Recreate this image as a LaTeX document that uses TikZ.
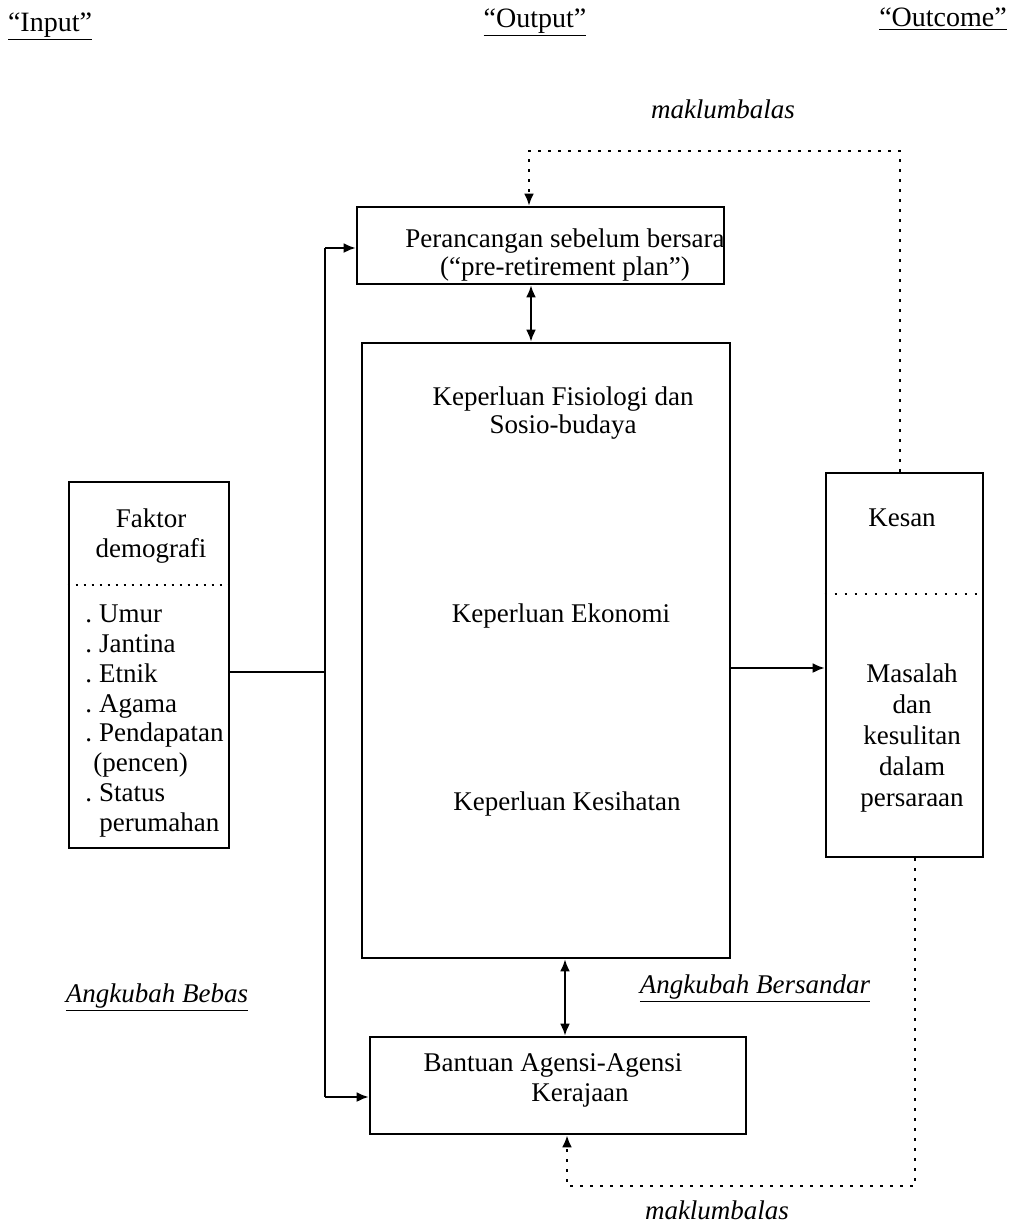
\documentclass[tikz,border=0pt]{standalone}
\usepackage{fontspec}
\setmainfont{Liberation Serif}
\usepackage{tikz}
\usetikzlibrary{arrows.meta,positioning}
\tikzset{
	kotak/.style={draw,line width=1.3pt,inner sep=0pt},
	teks/.style={inner sep=0pt},
	anak/.style={-{Latex[length=6pt,width=5pt]},line width=1.1pt},
	duaanak/.style={{Latex[length=6pt,width=5pt]}-{Latex[length=6pt,width=5pt]},line width=1.1pt},
	titik/.style={line width=1.3pt,dash pattern=on 1.3pt off 3.7pt}
}

\begin{document}
\begin{tikzpicture}[x=0.5pt,y=-0.5pt,font=\fontsize{13.5}{15}\selectfont]
  \useasboundingbox (0,0) rectangle (1009,1228);
  \tikzstyle{tajuk}=[teks,anchor=base,font=\fontsize{14}{16}\selectfont]

  % tajuk lajur
  \node[tajuk] (input) at (50,31) {\underline{``Input''}};
  \node[tajuk] (output) at (535,27) {\underline{``Output''}};
  \node[tajuk] (outcome) at (943,26) {\underline{``Outcome''}};

  % kotak
  \node[kotak,minimum width=183.5pt,minimum height=38.5pt] (perancangan) at (540.5,245.5) {};
  \node[kotak,minimum width=184pt,minimum height=307.5pt] (keperluan) at (546,650.5) {};
  \node[kotak,minimum width=80pt,minimum height=183pt] (faktor) at (149,665) {};
  \node[kotak,minimum width=78.5pt,minimum height=192pt] (kesan) at (904.5,665) {};
  \node[kotak,minimum width=188pt,minimum height=48.5pt] (bantuan) at (558,1085.5) {};

  % teks dalam kotak
  \node[teks,align=center,font=\fontsize{13.5}{14}\selectfont] (teksrancang) at (565,254.5)
    {Perancangan sebelum bersara\\(``pre-retirement plan'')};
  \node[teks,align=center,font=\fontsize{13.5}{14}\selectfont] (fisiologi) at (563,413) {Keperluan Fisiologi dan\\Sosio-budaya};
  \node[teks,anchor=base] (ekonomi) at (561,622) {Keperluan Ekonomi};
  \node[teks,anchor=base] (kesihatan) at (567,810) {Keperluan Kesihatan};
  \node[teks,align=center] (tajukfaktor) at (151,536) {Faktor\\demografi};
  \node[teks,align=left,anchor=west,font=\fontsize{13.5}{14.93}\selectfont] (senarai) at (85,721)
    {.\hspace{3.5pt}Umur\\.\hspace{3.5pt}Jantina\\.\hspace{3.5pt}Etnik\\.\hspace{3.5pt}Agama\\
     .\hspace{3.5pt}Pendapatan\\\hspace*{4pt}(pencen)\\.\hspace{3.5pt}Status\\\hspace*{7pt}perumahan};
  \node[teks,anchor=base] (tekskesan) at (902,526) {Kesan};
  \node[teks,align=center,font=\fontsize{13.5}{15.5}\selectfont] (masalah) at (912,738)
    {Masalah\\dan\\kesulitan\\dalam\\persaraan};
  \node[teks,align=center] (teksbantuan) at (553,1080.5) {Bantuan Agensi-Agensi\\\hspace*{27pt}Kerajaan};

  % garis pemisah
  \coordinate (pisahfaktor) at (0,585);
  \coordinate (pisahkesan) at (0,594);
  \draw[titik,line width=0.9pt,dash pattern=on 0.9pt off 3.1pt] (faktor.west |- pisahfaktor) -- (faktor.east |- pisahfaktor);
  \draw[titik,line width=1pt,dash pattern=on 1pt off 4pt] (kesan.west |- pisahkesan) -- (kesan.east |- pisahkesan);

  % label
  \node[teks,anchor=base] (bebas) at (157,1002) {\underline{\textit{Angkubah Bebas}}};
  \node[teks,anchor=base] (bersandar) at (755,993) {\underline{\textit{Angkubah Bersandar}}};
  \node[teks,anchor=base] (balasatas) at (723,118) {\textit{maklumbalas}};
  \node[teks,anchor=base] (balasbawah) at (717,1219) {\textit{maklumbalas}};

  % penyambung
  \coordinate (cabang) at (325,672);
  \coordinate (cabangatas) at (325,248);
  \coordinate (cabangbawah) at (325,1097);
  \draw[line width=1.1pt] (faktor.east |- cabang) -- (cabang);
  \draw[line width=1.1pt] (cabangatas) -- (cabangbawah);
  \draw[anak] (cabangatas) -- (perancangan.west |- cabangatas);
  \draw[anak] (cabangbawah) -- (bantuan.west |- cabangbawah);
  \coordinate (hasil) at (780,668);
  \draw[anak] (keperluan.east |- hasil) -- (kesan.west |- hasil);
  \coordinate (paksiatas) at (531,300);
  \coordinate (paksibawah) at (565,1000);
  \draw[duaanak] (perancangan.south -| paksiatas) -- (keperluan.north -| paksiatas);
  \draw[duaanak] (keperluan.south -| paksibawah) -- (bantuan.north -| paksibawah);

  % maklumbalas
  \coordinate (sudut1) at (900,151);
  \coordinate (sudut2) at (529,151);
  \coordinate (sudut3) at (915,1186);
  \coordinate (sudut4) at (567,1186);
  \draw[titik,-{Latex[length=6pt,width=5pt]}] (kesan.north -| sudut1) -- (sudut1) -- (sudut2) -- (perancangan.north -| sudut2);
  \draw[titik,-{Latex[length=6pt,width=5pt]}] (kesan.south -| sudut3) -- (sudut3) -- (sudut4) -- (bantuan.south -| sudut4);
\end{tikzpicture}
\end{document}
